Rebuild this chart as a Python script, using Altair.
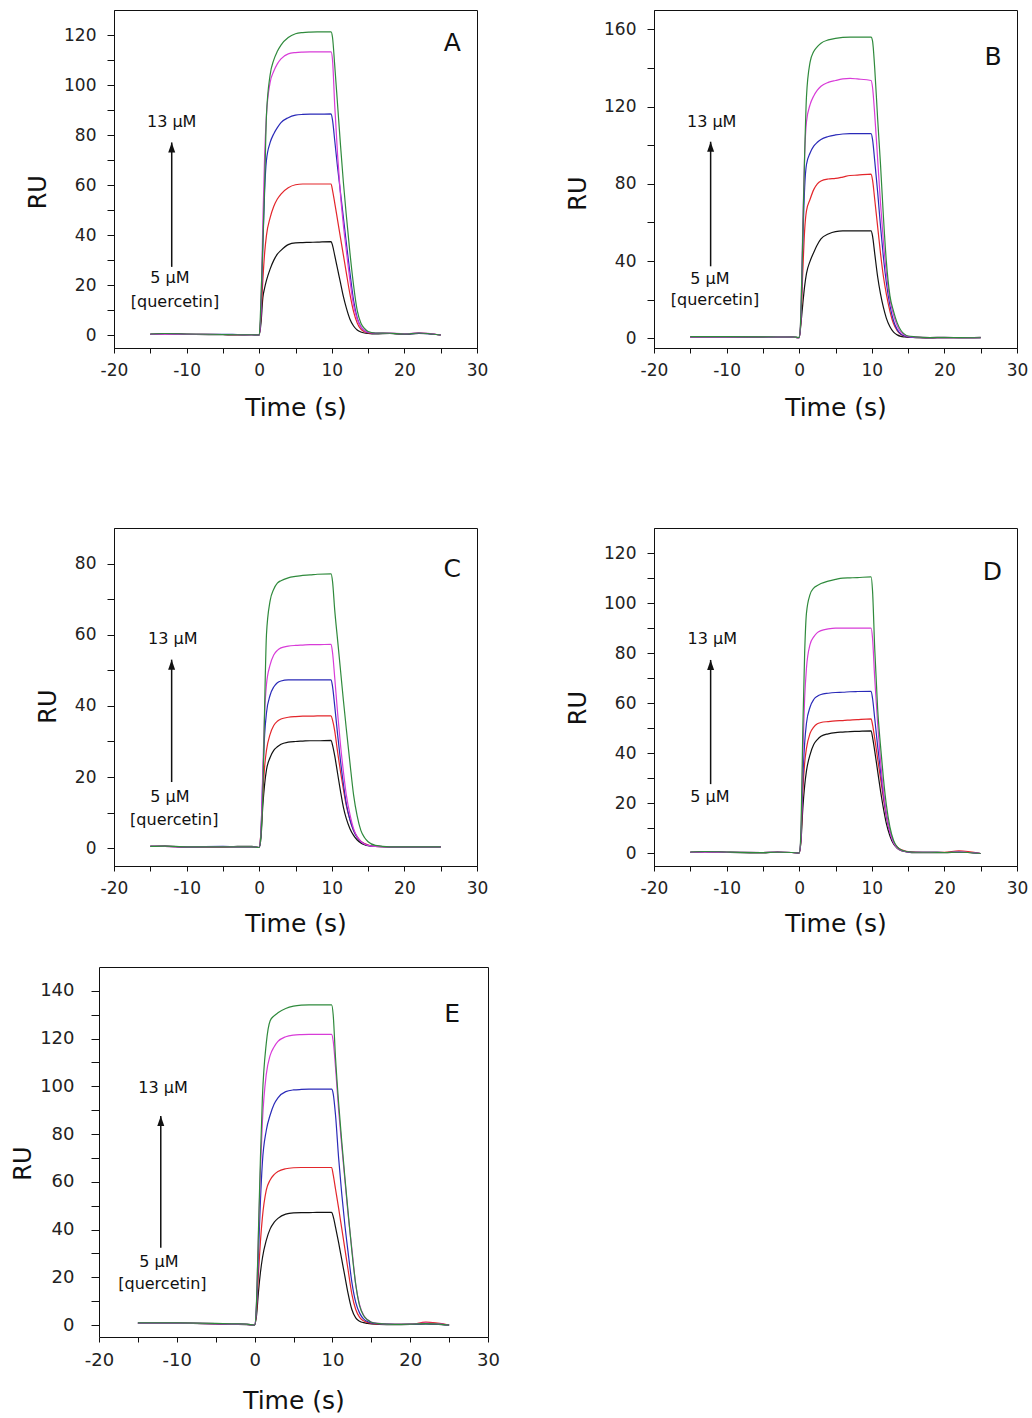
import altair as alt
import pandas as pd

# ---------------- data ----------------
T = [-15, -13, -10, -5, -3, -1, 0, 0.25, 0.5, 0.75, 1, 1.5, 2, 2.5, 3, 4, 5, 6, 7, 8, 9.9,
     10.1, 10.4, 10.8, 11.2, 11.6, 12, 12.5, 13, 13.5, 14, 14.5, 15, 16, 18, 20, 22, 25]

A_black = [0.5, 0.8, 0.5, 0.3, 0.2, 0.3, 0.2, 5, 15, 19, 22, 26.5, 30, 32.5, 34, 36.3, 37, 37.1, 37.2, 37.3, 37.5,
           36, 32, 26.5, 21, 15.5, 11, 6.5, 3.8, 2.2, 1.4, 1.0, 0.8, 0.6, 0.8, 0.5, 0.8, 0.2]
A_red = [0.5, 0.6, 0.5, 0.4, 0.3, 0.3, 0.2, 8, 22, 33, 40, 47, 51.5, 54.5, 56.5, 59, 60.2, 60.5, 60.5, 60.5, 60.5,
         58, 53, 46, 39, 32, 25, 16.5, 9.5, 5, 2.5, 1.5, 1.0, 0.8, 0.9, 0.6, 1.0, 0.2]
A_blue = [0.5, 0.6, 0.5, 0.5, 0.4, 0.3, 0.2, 10, 35, 58, 70, 77, 80.5, 83, 85, 87, 88, 88.3, 88.4, 88.4, 88.5,
          86, 78, 67, 57, 47, 37, 25, 14, 7, 3.5, 2, 1.2, 0.9, 0.9, 0.6, 0.9, 0.2]
A_magenta = [0.5, 0.5, 0.5, 0.4, 0.3, 0.3, 0.2, 12, 45, 72, 88, 101, 105.5, 108.5, 110.5, 112.5, 113, 113.2, 113.3, 113.3, 113.3,
             110, 92, 72, 56, 44, 34, 22, 12, 6.5, 3.5, 2, 1.3, 1.0, 0.9, 0.7, 1.1, 0.2]
A_green = [0.6, 0.8, 0.6, 0.4, 0.3, 0.3, 0.2, 15, 37, 60, 88, 104, 110, 113.5, 116, 119, 120.5, 121, 121.2, 121.3, 121.3,
           119, 108, 92, 76, 61, 48, 33, 20, 10, 5, 2.8, 1.6, 1.0, 0.9, 0.6, 1.0, 0.2]

B_black = [0.8, 0.8, 0.8, 0.6, 0.5, 0.6, 0.4, 8, 18, 27, 33.5, 40, 44.5, 48.5, 51.5, 54, 55.3, 55.6, 55.6, 55.6, 55.6,
           53, 44, 32, 23, 16, 10.5, 6, 3.2, 1.8, 1.0, 0.7, 0.5, 0.4, 0.2, 0.4, 0.3, 0.5]
B_red = [0.8, 0.8, 0.8, 0.7, 0.6, 0.6, 0.4, 10, 35, 56, 66, 72, 77, 80, 81.5, 82.5, 82.8, 83.5, 84.3, 84.5, 85,
         82, 72, 58, 44, 32, 23, 14, 7.5, 4, 2, 1.2, 0.8, 0.5, 0.4, 0.4, 0.3, 0.3]
B_blue = [0.8, 0.8, 0.8, 0.7, 0.6, 0.6, 0.4, 12, 50, 78, 90, 96, 99.5, 101.5, 103, 104.5, 105.3, 105.8, 106, 106, 106,
          103, 92, 76, 58, 42, 29, 17, 9, 4.5, 2.2, 1.3, 0.8, 0.5, 0.4, 0.4, 0.3, 0.3]
B_magenta = [0.8, 0.8, 0.8, 0.7, 0.6, 0.6, 0.4, 14, 60, 95, 112, 121, 125.5, 128.5, 130.5, 132.5, 133.5, 134.3, 134.6, 134.3, 133.5,
             130, 116, 93, 70, 50, 34, 20, 12, 6.5, 3.2, 1.8, 1.0, 0.6, 0.4, 0.5, 0.4, 0.3]
B_green = [0.9, 0.9, 0.9, 0.8, 0.7, 0.7, 0.5, 15, 55, 95, 125, 143, 148.5, 151, 152.8, 154.5, 155.3, 155.8, 156, 156, 156,
           154, 140, 114, 90, 63, 40, 22, 14, 8, 4.2, 2.2, 1.2, 0.8, 0.4, 0.5, 0.4, 0.3]

C_black = [0.5, 0.6, 0.3, 0.3, 0.5, 0.5, 0.2, 3, 12, 18, 22, 25.5, 27.5, 28.5, 29.2, 29.8, 30, 30.1, 30.2, 30.2, 30.3,
           29, 26, 21, 16, 11.5, 8.3, 5.5, 3.6, 2.3, 1.5, 1.0, 0.7, 0.5, 0.4, 0.4, 0.4, 0.4]
C_red = [0.5, 0.5, 0.4, 0.4, 0.4, 0.4, 0.2, 5, 15, 23, 27.5, 32, 34.5, 35.7, 36.3, 36.8, 37, 37.1, 37.1, 37.2, 37.2,
         36, 33, 27, 21.5, 16.5, 12, 8, 5, 3.2, 2, 1.3, 0.9, 0.5, 0.4, 0.4, 0.4, 0.4]
C_blue = [0.5, 0.5, 0.4, 0.5, 0.4, 0.4, 0.2, 5, 20, 32, 38, 43, 45.3, 46.5, 47, 47.3, 47.3, 47.3, 47.3, 47.3, 47.3,
          45.5, 40, 32, 24.5, 18, 12.5, 8, 5, 3, 1.9, 1.2, 0.8, 0.5, 0.4, 0.4, 0.4, 0.4]
C_magenta = [0.5, 0.5, 0.4, 0.4, 0.4, 0.4, 0.2, 5, 22, 38, 46, 51.5, 54.3, 55.6, 56.3, 56.8, 57, 57.1, 57.2, 57.2, 57.3,
             55, 48, 38, 29, 21.5, 15, 9.5, 5.5, 3.2, 1.9, 1.2, 0.8, 0.5, 0.4, 0.4, 0.4, 0.4]
C_green = [0.5, 0.6, 0.4, 0.4, 0.4, 0.4, 0.2, 4, 15, 40, 60, 69.5, 72.8, 74.5, 75.2, 76, 76.4, 76.7, 76.8, 77, 77.1,
           75, 67, 58.5, 50, 41.5, 33.5, 24, 15, 9, 5, 3, 1.8, 0.8, 0.4, 0.4, 0.4, 0.4]

D_black = [0.5, 0.8, 0.5, 0.2, 0.6, 0.4, 0.2, 5, 18, 27, 33, 39.5, 43.5, 45.5, 46.8, 47.8, 48.3, 48.5, 48.7, 48.8, 49,
           46.5, 41, 33, 25, 18, 12, 7, 3.8, 2.1, 1.2, 0.8, 0.5, 0.3, 0.3, 0.3, 0.5, 0.0]
D_red = [0.5, 0.6, 0.5, 0.4, 0.5, 0.4, 0.2, 6, 25, 36, 42, 48, 50.5, 51.8, 52.3, 52.7, 53, 53.1, 53.3, 53.5, 53.8,
         51.5, 46, 38, 30, 22, 15, 8.5, 4.6, 2.6, 1.6, 1.1, 0.8, 0.6, 0.5, 0.5, 1.1, 0.0]
D_blue = [0.5, 0.6, 0.5, 0.4, 0.5, 0.4, 0.2, 7, 30, 44, 52, 58.5, 61.5, 62.8, 63.5, 64, 64.3, 64.4, 64.6, 64.7, 64.8,
          62, 54, 43, 33, 23.5, 15.5, 8.5, 4.4, 2.4, 1.4, 0.9, 0.6, 0.5, 0.5, 0.4, 0.6, 0.0]
D_magenta = [0.5, 0.6, 0.5, 0.4, 0.5, 0.4, 0.2, 8, 40, 62, 74, 83.5, 86.5, 88.2, 89, 89.7, 90, 90, 90, 90, 90,
             86, 70, 52, 37, 25, 16, 8.5, 4.3, 2.3, 1.3, 0.9, 0.6, 0.5, 0.5, 0.4, 0.6, 0.0]
D_green = [0.6, 0.8, 0.6, 0.4, 0.5, 0.4, 0.2, 10, 50, 80, 96, 103.5, 106, 107, 107.8, 108.8, 109.5, 110, 110.1, 110.2, 110.5,
           105, 82, 58, 43, 30, 19.5, 10.5, 5.2, 2.6, 1.5, 1.0, 0.7, 0.5, 0.5, 0.4, 0.5, 0.0]

E_black = [0.8, 0.8, 0.8, 0.5, 0.3, 0.2, 0.0, 4, 14, 22, 28, 35.5, 40.3, 43, 44.7, 46.5, 47, 47.1, 47.1, 47.2, 47.2,
           45.5, 41, 34.5, 27.5, 20.5, 13.5, 6.5, 3, 1.6, 1.0, 0.7, 0.5, 0.3, 0.2, 0.3, 0.5, 0.0]
E_red = [0.8, 0.8, 0.8, 0.6, 0.4, 0.3, 0.0, 6, 22, 35, 45, 56.5, 60.8, 63, 64.3, 65.5, 65.9, 66, 66, 66, 66,
         63, 57, 49, 40.5, 32, 23.5, 13, 6.5, 3.2, 1.8, 1.1, 0.7, 0.4, 0.3, 0.3, 1.2, 0.0]
E_blue = [0.8, 0.8, 0.8, 0.6, 0.4, 0.3, 0.0, 8, 30, 52, 68, 81.5, 88, 92.5, 95.2, 97.8, 98.5, 98.7, 98.8, 98.8, 98.8,
          97, 88, 70, 55, 42, 31, 18, 9.5, 5, 2.6, 1.5, 0.9, 0.5, 0.3, 0.3, 0.6, 0.0]
E_magenta = [0.8, 0.8, 0.8, 0.6, 0.4, 0.3, 0.0, 10, 38, 65, 85, 105, 113, 116.5, 118.8, 120.8, 121.5, 121.7, 121.8, 121.8, 121.8,
             119, 108, 90, 75, 61, 47, 32, 17, 8.5, 4.2, 2.2, 1.3, 0.7, 0.3, 0.4, 0.8, 0.0]
E_green = [0.9, 0.9, 0.9, 0.7, 0.5, 0.4, 0.0, 10, 40, 70, 95, 118, 127.5, 129.5, 130.8, 132.6, 133.6, 134, 134.1, 134.1, 134.1,
           130, 112, 93, 77, 62, 48, 31, 17, 8, 4, 2.2, 1.2, 0.6, 0.3, 0.4, 0.6, 0.0]

SERIES = ["black", "red", "blue", "magenta", "green"]
COLORS = ["#111111", "#e3262b", "#2a2ab8", "#d83cd8", "#2f8a3c"]

PANELS = ["A", "B", "C", "D", "E"]
CURVES = {
    "A": [A_black, A_red, A_blue, A_magenta, A_green],
    "B": [B_black, B_red, B_blue, B_magenta, B_green],
    "C": [C_black, C_red, C_blue, C_magenta, C_green],
    "D": [D_black, D_red, D_blue, D_magenta, D_green],
    "E": [E_black, E_red, E_blue, E_magenta, E_green],
}

Y_MIN = [-5, -5, -5, -5, -5]
Y_MAX = [130, 170, 90, 130, 150]
Y_TICK_MAX = [120, 160, 80, 120, 140]
Y_MINOR_STEP = [10, 20, 10, 10, 10]
Y_MAJOR_STEP = [20, 40, 20, 20, 20]
X_TICKS = [-20, -15, -10, -5, 0, 5, 10, 15, 20, 25, 30]

# annotations (data coordinates)
ARROW_X = [-12.05, -12.2, -12.06, -12.2, -12.06]
ARROW_Y0 = [27.4, 37.3, 18.6, 27.7, 32.4]
ARROW_Y1 = [77.1, 101.8, 53.0, 77.3, 87.6]
HIGH_LABEL = ["13 \u00b5M"] * 5
HIGH_X = [-12.05, -12.05, -11.9, -11.97, -11.77]
HIGH_Y = [85.1, 112.2, 58.9, 85.7, 99.5]
LOW_LABEL = ["5 \u00b5M"] * 5
LOW_X = [-12.3, -12.3, -12.3, -12.3, -12.3]
LOW_Y = [22.8, 30.8, 14.3, 22.4, 26.4]
Q_LABEL = ["[quercetin]", "[quercetin]", "[quercetin]", "", "[quercetin]"]
Q_X = [-11.6, -11.6, -11.7, -11.6, -11.85]
Q_Y = [13.5, 20.1, 7.8, 13.5, 17.1]
LETTER_X = [26.6, 26.7, 26.6, 26.6, 25.4]
LETTER_Y = [116.8, 145.5, 78.6, 112.3, 130.2]

# layout / style per panel
WIDTHS = [363, 363, 363, 363, 389]
HEIGHTS = [338, 338, 338, 338, 370]
LEFT_SHIFT = [0, 0, 0, 0, 15]      # panel E sits 15 px left of the A/C column
Y_TITLE_X = [-64, -64, -54, -64, -64]
Y_TITLE_Y = [181.7, 183, 178, 179.5, 196]
X_TITLE_Y = [47.5, 47.5, 45.5, 45.5, 51.5]
LABEL_SIZE = [17, 17, 17, 17, 18]
Y_TICK = [7, 7, 7, 7, 8]
Y_LABEL_PAD = [11, 11, 11, 11, 17]

FONT = "DejaVu Sans"
SERIES_KEYS = [f"{i}_{s}" for i, s in enumerate(SERIES)]


def make_panel(k):
    p = PANELS[k]
    shift = LEFT_SHIFT[k]
    view_w = WIDTHS[k] - shift
    rows = []
    for key, vals in zip(SERIES_KEYS, CURVES[p]):
        for t, v in zip(T, vals):
            rows.append({"t": t, "RU": v, "series": key})
    df = pd.DataFrame(rows)

    if shift:
        xs = alt.Scale(domain=[-20, 30], nice=False, zero=False, range=[-shift, view_w])
    else:
        xs = alt.Scale(domain=[-20, 30], nice=False, zero=False)
    ys = alt.Scale(domain=[Y_MIN[k], Y_MAX[k]], nice=False, zero=False)
    yvals = list(range(0, Y_TICK_MAX[k] + 1, Y_MINOR_STEP[k]))

    xaxis = alt.Axis(
        values=X_TICKS,
        labelExpr="datum.value % 10 === 0 ? (datum.value < 0 ? '-' + abs(datum.value) : '' + datum.value) : ''",
        title="Time (s)", titleY=X_TITLE_Y[k], titleFontSize=25, orient="bottom",
        tickSize=5, labelPadding=9, labelFlush=False, labelOverlap=False,
        grid=False, labelFontSize=LABEL_SIZE[k],
    )
    yaxis = alt.Axis(
        values=yvals,
        labelExpr=f"datum.value % {Y_MAJOR_STEP[k]} === 0 ? datum.label : ''",
        title="RU", titleX=Y_TITLE_X[k], titleY=Y_TITLE_Y[k], titleFontSize=24, orient="left",
        tickSize=Y_TICK[k], labelPadding=Y_LABEL_PAD[k], labelFlush=False, labelOverlap=False,
        grid=False, labelFontSize=LABEL_SIZE[k], offset=shift,
    )

    X = alt.X("t:Q", scale=xs, axis=xaxis, title="Time (s)")
    Y = alt.Y("RU:Q", scale=ys, axis=yaxis, title="RU")
    if shift:
        # frame drawn by axis domains (view rectangle is offset for this panel)
        Xa = alt.X("t:Q", scale=xs, axis=None)
        Ya = alt.Y("RU:Q", scale=ys, axis=None)
        Xf = alt.X("t:Q", scale=xs, axis=alt.Axis(orient="top", ticks=False, labels=False, grid=False, title=None))
        Yf = alt.Y("RU:Q", scale=ys, axis=alt.Axis(orient="right", ticks=False, labels=False, grid=False, title=None))
    else:
        Xa, Ya, Xf, Yf = X, Y, X, Y

    lines = alt.Chart(df).mark_line(strokeWidth=1.2, interpolate="monotone").encode(
        x=X, y=Y,
        color=alt.Color("series:N", scale=alt.Scale(domain=SERIES_KEYS, range=COLORS), legend=None),
    )

    arrow_df = pd.DataFrame({"t": [ARROW_X[k]], "RU": [ARROW_Y0[k]], "RU2": [ARROW_Y1[k]]})
    arrow = alt.Chart(arrow_df).mark_rule(color="#111", strokeWidth=1.5).encode(
        x=Xf, y=Yf, y2="RU2:Q",
    )
    head_df = pd.DataFrame({"t": [ARROW_X[k]], "RU": [ARROW_Y1[k]]})
    head = alt.Chart(head_df).mark_point(
        shape="M0,0L-0.7,2L0.7,2Z", filled=True, color="#111", size=100, opacity=1, strokeWidth=0
    ).encode(x=Xa, y=Ya)

    labs = [HIGH_LABEL[k], LOW_LABEL[k], Q_LABEL[k]]
    lx = [HIGH_X[k], LOW_X[k], Q_X[k]]
    ly = [HIGH_Y[k], LOW_Y[k], Q_Y[k]]
    text_df = pd.DataFrame({"t": lx, "RU": ly, "label": labs})
    text_df = text_df[text_df["label"] != ""]
    texts = alt.Chart(text_df).mark_text(font=FONT, fontSize=16, color="#111").encode(
        x=Xa, y=Ya, text="label:N",
    )

    letter_df = pd.DataFrame({"t": [LETTER_X[k]], "RU": [LETTER_Y[k]], "label": [p]})
    letter = alt.Chart(letter_df).mark_text(font=FONT, fontSize=25, color="#111").encode(
        x=Xa, y=Ya, text="label:N",
    )

    layered = alt.layer(lines, arrow, head, texts, letter).properties(width=view_w, height=HEIGHTS[k])
    if shift:
        layered = layered.resolve_axis(x="independent", y="independent").properties(
            view=alt.ViewBackground(stroke="transparent")
        )
    return layered


panels = [make_panel(k) for k in range(5)]

inner = alt.concat(
    panels[0], panels[1], panels[2], panels[3],
    columns=2, spacing={"row": 180, "column": 177}, bounds="flush",
)

chart = alt.vconcat(inner, panels[4], spacing=29).properties(
    padding={"left": 10, "top": 9, "right": 0, "bottom": 5},
    background="white",
).configure_view(
    stroke="#111", strokeWidth=1
).configure_axis(
    domainColor="#111", tickColor="#111", labelColor="#222", titleColor="#111",
    labelFont=FONT, titleFont=FONT, titleFontWeight="normal", domainWidth=1, tickWidth=1,
)

chart.save("out.html", embed_options={"renderer": "svg", "actions": False})
